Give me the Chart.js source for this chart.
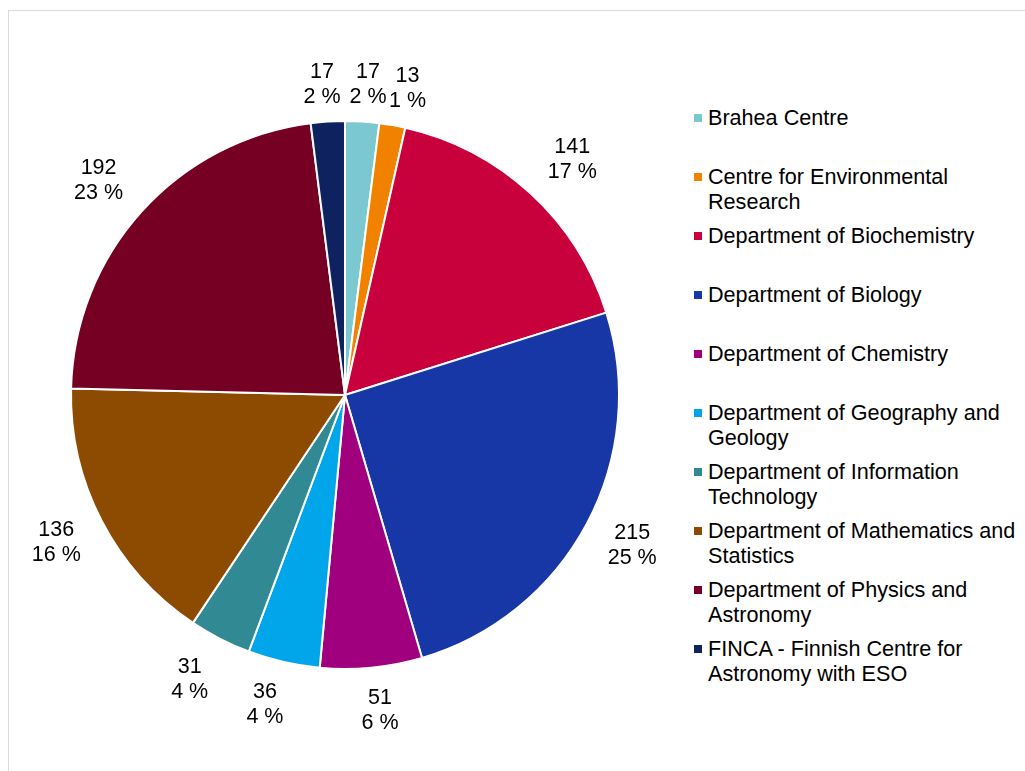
<!DOCTYPE html>
<html>
<head>
<meta charset="utf-8">
<script src="https://cdn.jsdelivr.net/npm/chart.js@4"></script>
<style>
  html, body { margin: 0; padding: 0; background: #fff; overflow: hidden; }
  body { width: 1025px; height: 771px; position: relative; font-family: "Liberation Sans", Arial, sans-serif; }
  #frame { position: absolute; left: 8px; top: 10px; width: 1100px; height: 800px; border: 1px solid #d9d9d9; }
  #wrap { position: absolute; left: 0; top: 0; width: 690px; height: 771px; }
  #legend { position: absolute; left: 694px; top: 106px; margin: 0; padding: 0; list-style: none; }
  #legend li { position: relative; height: 59px; padding-left: 14px; font-size: 21.6px; line-height: 24.5px; color: #000; white-space: nowrap; }
  #legend li span { position: absolute; left: 0; top: 8px; width: 8px; height: 8px; }
</style>
</head>
<body>
<div id="frame"></div>
<div id="wrap"><canvas id="myPieChart"></canvas></div>
<ul id="legend"></ul>
<script>
// Datos del gráfico
var categorias = [
  "Brahea Centre",
  "Centre for Environmental Research",
  "Department of Biochemistry",
  "Department of Biology",
  "Department of Chemistry",
  "Department of Geography and Geology",
  "Department of Information Technology",
  "Department of Mathematics and Statistics",
  "Department of Physics and Astronomy",
  "FINCA - Finnish Centre for Astronomy with ESO"
];
// texto de la leyenda con saltos de línea como en el original
var leyenda = [
  ["Brahea Centre"],
  ["Centre for Environmental", "Research"],
  ["Department of Biochemistry"],
  ["Department of Biology"],
  ["Department of Chemistry"],
  ["Department of Geography and", "Geology"],
  ["Department of Information", "Technology"],
  ["Department of Mathematics and", "Statistics"],
  ["Department of Physics and", "Astronomy"],
  ["FINCA - Finnish Centre for", "Astronomy with ESO"]
];
var valores = [17, 13, 141, 215, 51, 36, 31, 136, 192, 17];
var porcentajes = ["2 %", "1 %", "17 %", "25 %", "6 %", "4 %", "4 %", "16 %", "23 %", "2 %"];
var colores = ["#7CC8D1", "#F08200", "#C8003C", "#1637A5", "#A0007E", "#00A6E9", "#318A93", "#8C4B00", "#760024", "#0F2260"];

// Leyenda en HTML (el texto se parte en dos líneas)
var ul = document.getElementById("legend");
leyenda.forEach(function (lineas, i) {
  var li = document.createElement("li");
  var sq = document.createElement("span");
  sq.style.background = colores[i];
  li.appendChild(sq);
  li.appendChild(document.createTextNode(lineas[0]));
  if (lineas[1]) {
    li.appendChild(document.createElement("br"));
    li.appendChild(document.createTextNode(lineas[1]));
  }
  ul.appendChild(li);
});

// Etiquetas fuera del pastel: valor y porcentaje (parecido a "extremo externo" de Excel)
var etiquetasFuera = {
  id: "etiquetasFuera",
  afterDatasetsDraw: function (chart) {
    var ctx = chart.ctx;
    var meta = chart.getDatasetMeta(0);
    ctx.save();
    ctx.font = '21.5px "Liberation Sans", Arial, sans-serif';
    ctx.fillStyle = "#000";
    ctx.textAlign = "center";
    ctx.textBaseline = "middle";
    meta.data.forEach(function (arc, i) {
      var p = arc.getProps(["x", "y", "startAngle", "endAngle", "outerRadius"], true);
      var mid = (p.startAngle + p.endAngle) / 2;
      var dx = Math.cos(mid), dy = Math.sin(mid);
      var w = Math.max(ctx.measureText(String(valores[i])).width, ctx.measureText(porcentajes[i]).width);
      var d = p.outerRadius + 13;
      var sx = Math.sign(dx) * (w / 2 + 10) * Math.tanh(Math.abs(dx) * 2.8);
      var sy = dy < 0 ? -Math.min(24, -dy * 33) : Math.min(30, dy * 33);
      var cx = p.x + dx * d + sx, cy = p.y + dy * d + sy;
      ctx.fillText(String(valores[i]), cx, cy - 12.25);
      ctx.fillText(porcentajes[i], cx, cy + 12.25);
    });
    ctx.restore();
  }
};

var ctx = document.getElementById("myPieChart");
var myPieChart = new Chart(ctx, {
  type: "pie",
  data: {
    labels: categorias,
    datasets: [
      {
        data: valores,
        backgroundColor: colores,
        borderColor: "#ffffff",
        borderWidth: 2
      }
    ]
  },
  options: {
    responsive: true,
    maintainAspectRatio: false,
    animation: false,
    layout: { padding: { left: 70, right: 70, top: 120, bottom: 101 } },
    plugins: {
      legend: { display: false },
      tooltip: { enabled: false }
    }
  },
  plugins: [etiquetasFuera]
});
</script>
</body>
</html>
